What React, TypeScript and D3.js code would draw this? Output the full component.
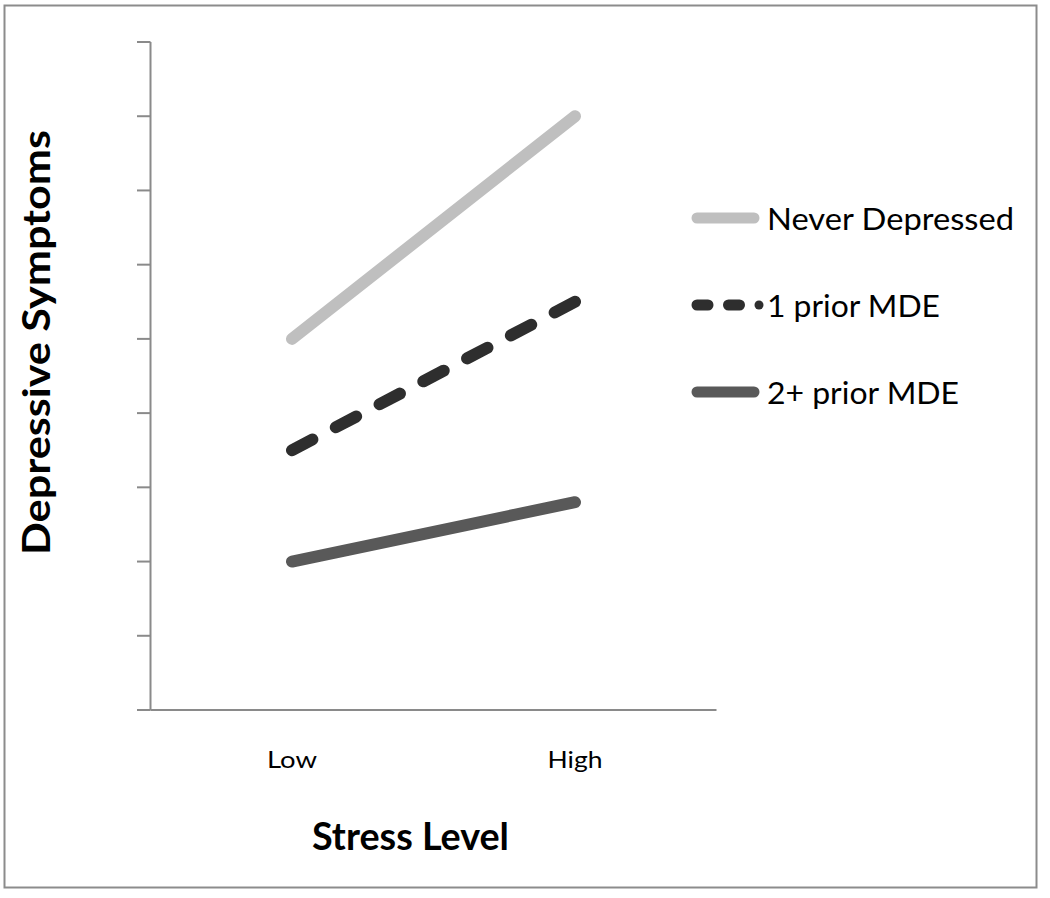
import React from "react";
import * as d3 from "d3";

const categories = ["Low", "High"];
const seriesNames = ["Never Depressed", "1 prior MDE", "2+ prior MDE"];
const neverDepressed = [5, 8];
const onePrior = [3.5, 5.5];
const twoPlusPrior = [2, 2.8];
const yTicks = [0, 1, 2, 3, 4, 5, 6, 7, 8, 9];

const W = 1050;
const H = 898;
const FONT = "Lato, 'Open Sans', sans-serif";

export default function App() {
  const x = d3.scaleBand<string>().domain(categories).range([150.5, 716.5]);
  const y = d3.scaleLinear().domain([0, 9]).range([710, 42]);
  const cx = (i: number) => (x(categories[i]) as number) + x.bandwidth() / 2;
  const line = d3
    .line<number>()
    .x((_, i) => cx(i))
    .y((d) => y(d));

  const series = [
    { name: seriesNames[0], values: neverDepressed, color: "#BFBFBF", dashed: false, textLen: 247 },
    { name: seriesNames[1], values: onePrior, color: "#2E2E2E", dashed: true, textLen: 173 },
    { name: seriesNames[2], values: twoPlusPrior, color: "#595959", dashed: false, textLen: 192 },
  ];

  // dash pattern fitted so the dashed line begins and ends with a dash (7 dashes)
  const dashFor = (vals: number[]) => {
    const len = Math.hypot(cx(1) - cx(0), y(vals[1]) - y(vals[0]));
    const d = 23;
    const g = (len - 7 * d) / 6;
    return `${d} ${g}`;
  };

  const axisColor = "#8A8A8A";
  const legendY = [218, 305, 392];
  const lx1 = 697;
  const lx2 = 754;

  return (
    <svg
      width={W}
      height={H}
      style={{ position: "absolute", left: 0, top: 0, background: "#fff" }}
    >
      <rect x={0} y={0} width={W} height={H} fill="#fff" />
      <rect x={4.5} y={5.5} width={1032} height={882} fill="none" stroke="#8C8C8C" strokeWidth={2} />

      {/* y axis */}
      <line x1={150.5} x2={150.5} y1={y(9)} y2={y(0)} stroke={axisColor} strokeWidth={2} />
      {yTicks.map((t) => (
        <line key={t} x1={137} x2={150.5} y1={y(t)} y2={y(t)} stroke={axisColor} strokeWidth={2} />
      ))}
      {/* x axis */}
      <line x1={150.5} x2={716.5} y1={y(0)} y2={y(0)} stroke={axisColor} strokeWidth={2} />
      {categories.map((c, i) => (
        <text
          key={c}
          x={cx(i)}
          y={768}
          textAnchor="middle"
          fontFamily={FONT}
          fontSize={24}
          textLength={i === 0 ? 50 : 55}
          lengthAdjust="spacingAndGlyphs"
          fill="#000"
        >
          {c}
        </text>
      ))}

      {/* series */}
      {series.map((s) => (
        <path
          key={s.name}
          d={line(s.values) as string}
          fill="none"
          stroke={s.color}
          strokeWidth={12}
          strokeLinecap="round"
          strokeDasharray={s.dashed ? dashFor(s.values) : undefined}
        />
      ))}

      {/* legend */}
      {series.map((s, i) => (
        <g key={s.name}>
          <line
            x1={lx1}
            x2={s.dashed ? 740 : lx2}
            y1={legendY[i]}
            y2={legendY[i]}
            stroke={s.color}
            strokeWidth={11}
            strokeLinecap="round"
            strokeDasharray={s.dashed ? "11 20.5" : undefined}
          />
          {s.dashed && <circle cx={759} cy={legendY[i]} r={4.5} fill={s.color} />}
          <text
            x={767}
            y={legendY[i] + 12}
            fontFamily={FONT}
            fontSize={31}
            textLength={s.textLen}
            lengthAdjust="spacingAndGlyphs"
            fill="#000"
          >
            {s.name}
          </text>
        </g>
      ))}

      {/* axis titles */}
      <text
        x={410.5}
        y={850}
        textAnchor="middle"
        fontFamily={FONT}
        fontWeight="bold"
        fontSize={38}
        textLength={197}
        lengthAdjust="spacingAndGlyphs"
        fill="#000"
      >
        Stress Level
      </text>
      <text
        transform={`translate(50, 342.5) rotate(-90)`}
        textAnchor="middle"
        fontFamily={FONT}
        fontWeight="bold"
        fontSize={38}
        textLength={425}
        lengthAdjust="spacingAndGlyphs"
        fill="#000"
      >
        Depressive Symptoms
      </text>
    </svg>
  );
}
